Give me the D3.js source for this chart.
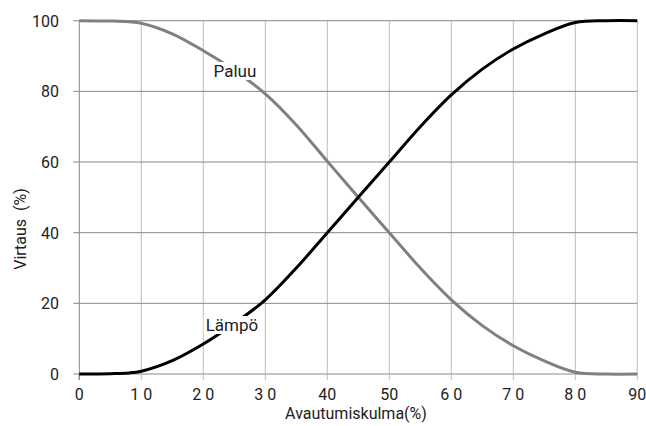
<!DOCTYPE html>
<html>
<head>
<meta charset="utf-8">
<script src="https://cdn.jsdelivr.net/npm/d3@7"></script>
<style>
  body { margin: 0; background: #fff; }
  text { font-family: Roboto, "DejaVu Sans", sans-serif; fill: #222; }
</style>
</head>
<body>
<div id="chart"></div>
<script>
// opening angle (%) and flow (%) for the two ports
var angles = [0, 5, 8, 10, 15, 20, 25, 30, 35, 40, 45, 50, 55, 60, 65, 70, 75, 80, 85, 90];
var lampo  = [0, 0.1, 0.3, 0.8, 3.8, 8.5, 14.3, 21, 30, 40, 50, 60, 70, 79, 86.3, 92, 96.3, 99.5, 100, 100];
var paluu  = [100, 99.9, 99.7, 99.3, 96.3, 91.5, 86, 79.3, 70.5, 60.2, 50, 40, 30, 21, 13.7, 8, 3.7, 0.5, 0, 0];

var xTicks = [0, 10, 20, 30, 40, 50, 60, 70, 80, 90];
var xTickLabels = ["0", "1 0", "2 0", "3 0", "40", "50", "6 0", "7 0", "8 0", "90"];
var yTicks = [0, 20, 40, 60, 80, 100];

var width = 646, height = 426;
var margin = {top: 20.7, right: 8.7, bottom: 52, left: 79.3};

var svg = d3.select("#chart").append("svg")
    .attr("width", width)
    .attr("height", height);

var x = d3.scaleLinear().domain([0, 90]).range([margin.left, width - margin.right]);
var y = d3.scaleLinear().domain([0, 100]).range([height - margin.bottom, margin.top]);

//vertical grid lines (light)
svg.append("g").selectAll("line").data(xTicks.slice(1)).enter().append("line")
    .attr("x1", function(d){ return x(d); })
    .attr("x2", function(d){ return x(d); })
    .attr("y1", y(100))
    .attr("y2", y(0))
    .attr("stroke", "#bdbdbd")
    .attr("stroke-width", 1);

//horizontal grid lines (darker) with ticks to the left
svg.append("g").selectAll("line").data(yTicks).enter().append("line")
    .attr("x1", x(0) - 6)
    .attr("x2", x(90))
    .attr("y1", function(d){ return y(d); })
    .attr("y2", function(d){ return y(d); })
    .attr("stroke", "#888")
    .attr("stroke-width", 1);

//left border + x ticks
svg.append("line")
    .attr("x1", x(0)).attr("x2", x(0))
    .attr("y1", y(100)).attr("y2", y(0) + 6)
    .attr("stroke", "#888");
svg.append("g").selectAll("line").data(xTicks).enter().append("line")
    .attr("x1", function(d){ return x(d); })
    .attr("x2", function(d){ return x(d); })
    .attr("y1", y(0))
    .attr("y2", y(0) + 6)
    .attr("stroke", function(d){ return d == 0 ? "#888" : "#bdbdbd"; });

//tick labels
svg.append("g").selectAll("text").data(yTicks).enter().append("text")
    .attr("x", 59)
    .attr("y", function(d){ return y(d) + 6; })
    .attr("text-anchor", "end")
    .style("font-size", "16px")
    .text(function(d){ return d; });

svg.append("g").selectAll("text").data(xTicks).enter().append("text")
    .attr("x", function(d){ return x(d); })
    .attr("y", 400)
    .attr("text-anchor", "middle")
    .style("font-size", "16px")
    .style("white-space", "pre")
    .text(function(d, i){ return xTickLabels[i]; });

//axis titles
svg.append("text")
    .attr("x", 356)
    .attr("y", 419)
    .attr("text-anchor", "middle")
    .style("font-size", "16px")
    .text("Avautumiskulma(%)");

svg.append("text")
    .attr("transform", "translate(26," + 229 + ") rotate(-90)")
    .attr("text-anchor", "middle")
    .style("font-size", "16px")
    .style("white-space", "pre")
    .text("Virtaus  (%)");

//curves
var line = d3.line()
    .x(function(d){ return x(d[0]); })
    .y(function(d){ return y(d[1]); })
    .curve(d3.curveCatmullRom.alpha(0.5));

svg.append("path")
    .datum(angles.map(function(a, i){ return [a, paluu[i]]; }))
    .attr("d", line)
    .attr("fill", "none")
    .attr("stroke", "#808080")
    .attr("stroke-width", 3);

svg.append("path")
    .datum(angles.map(function(a, i){ return [a, lampo[i]]; }))
    .attr("d", line)
    .attr("fill", "none")
    .attr("stroke", "#000")
    .attr("stroke-width", 3);

//curve labels on white boxes
function curveLabel(txt, cx, by) {
    var t = svg.append("text")
        .attr("x", cx)
        .attr("y", by)
        .attr("text-anchor", "middle")
        .style("font-size", "17px")
        .text(txt);
    var bb = t.node().getBBox();
    svg.insert("rect", function(){ return t.node(); })
        .attr("x", bb.x - 2)
        .attr("y", bb.y + 1)
        .attr("width", bb.width + 4)
        .attr("height", bb.height - 2)
        .attr("fill", "#fff");
}
curveLabel("Paluu", 235, 77);
curveLabel("Lämpö", 232, 331);
</script>
</body>
</html>
